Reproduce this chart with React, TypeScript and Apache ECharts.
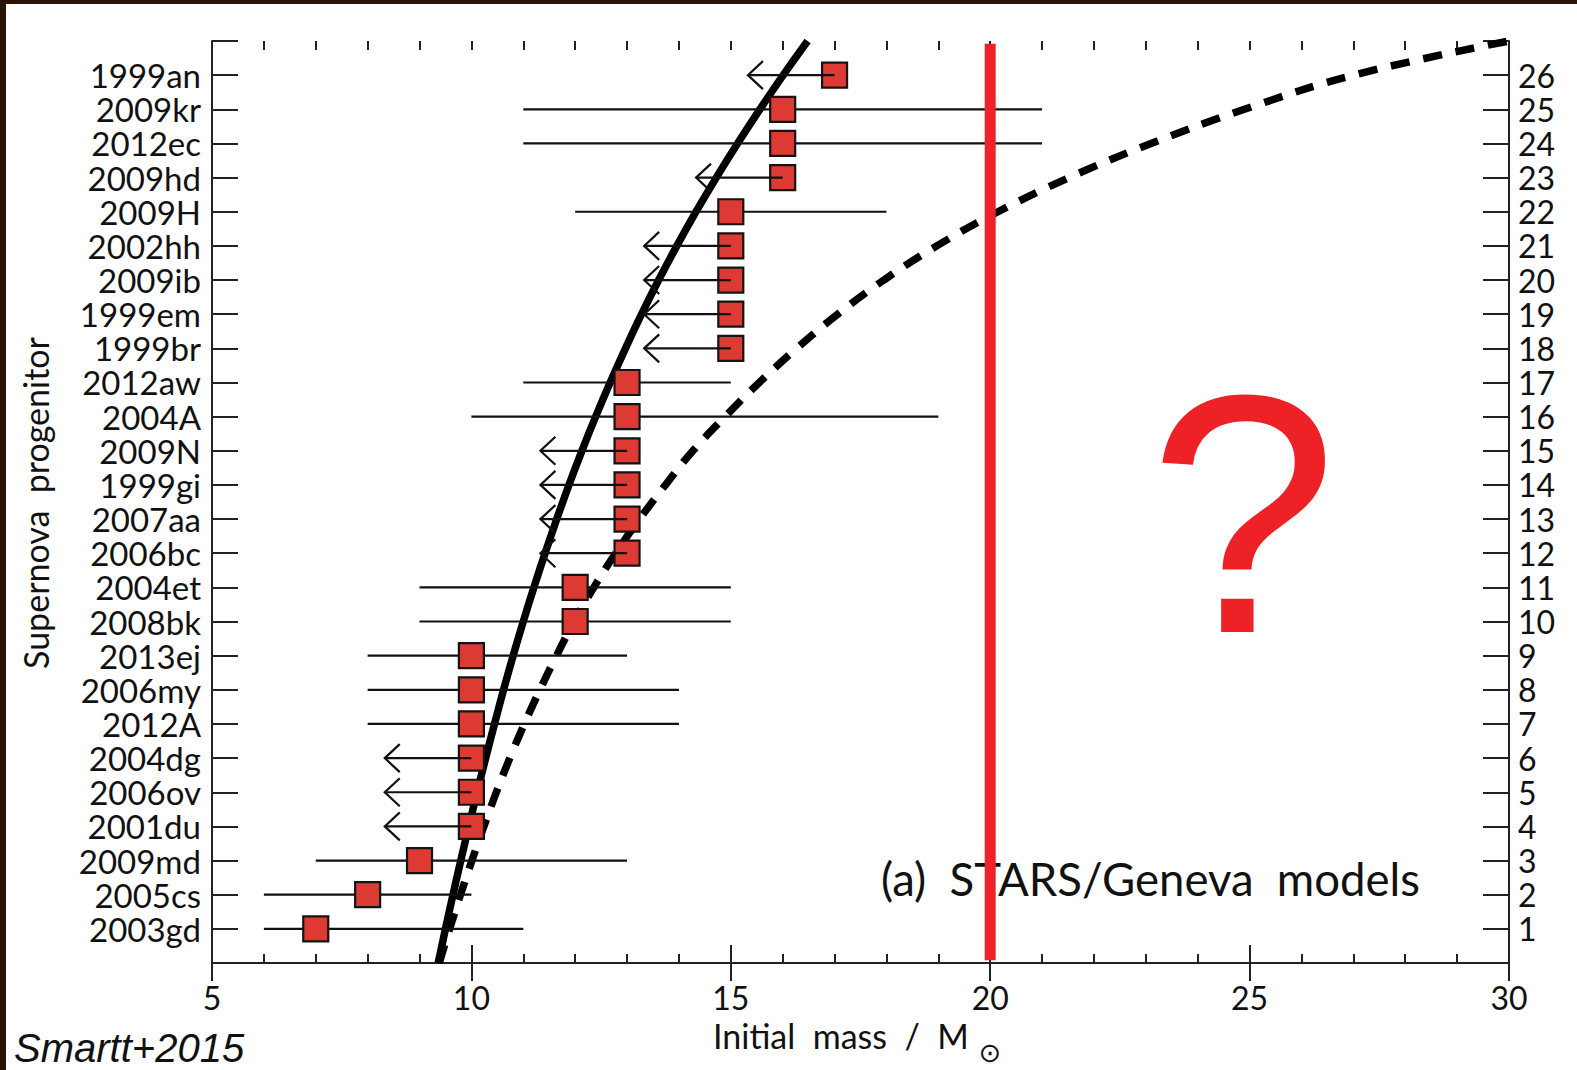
import React, { useEffect, useRef } from "react";
import * as echarts from "echarts";

// Supernova names, ordered by rank (1 = bottom)
const names = [
  "2003gd", "2005cs", "2009md", "2001du", "2006ov", "2004dg", "2012A", "2006my", "2013ej",
  "2008bk", "2004et", "2006bc", "2007aa", "1999gi", "2009N", "2004A", "2012aw", "1999br",
  "1999em", "2009ib", "2002hh", "2009H", "2009hd", "2012ec", "2009kr", "1999an",
];
const rankLabels = [
  "1", "2", "3", "4", "5", "6", "7", "8", "9", "10", "11", "12", "13", "14", "15", "16", "17",
  "18", "19", "20", "21", "22", "23", "24", "25", "26",
];
// Initial mass estimates (Msun)
const masses = [7, 8, 9, 10, 10, 10, 10, 10, 10, 12, 12, 13, 13, 13, 13, 13, 13, 15, 15, 15, 15, 15, 16, 16, 16, 17];
// Lower end of error bar, or tip of the upper-limit arrow
const lowers = [6, 6, 7, 8.33, 8.33, 8.33, 8, 8, 8, 9, 9, 11.33, 11.33, 11.33, 11.33, 10, 11, 13.33, 13.33, 13.33, 13.33, 12, 14.33, 11, 11, 15.33];
// Upper end of error bar (for upper limits, equals the mass)
const uppers = [11, 10, 13, 10, 10, 10, 14, 14, 13, 15, 15, 13, 13, 13, 13, 19, 15, 15, 15, 15, 15, 18, 16, 21, 21, 17];
// 1 = upper limit (arrow), 0 = two-sided error bar
const isLimit = [0, 0, 0, 1, 1, 1, 0, 0, 0, 0, 0, 1, 1, 1, 1, 0, 0, 1, 1, 1, 1, 0, 1, 0, 0, 1];

// Model curves: rank position vs expected mass
const curveRank = [0, 1, 2, 3, 4, 5, 6, 7, 8, 9, 10, 11, 12, 13, 14, 15, 16, 17, 18, 19, 20, 21, 22, 23, 24, 25, 26, 27];
const solidMass = [9.36, 9.5, 9.645, 9.795, 9.95, 10.11, 10.275, 10.445, 10.62, 10.805, 11.0, 11.205, 11.42, 11.645, 11.88, 12.13, 12.395, 12.675, 12.97, 13.28, 13.61, 13.96, 14.33, 14.72, 15.13, 15.56, 16.01, 16.48];
const dashedMass = [9.38, 9.58, 9.79, 10.01, 10.24, 10.48, 10.74, 11.02, 11.32, 11.64, 11.98, 12.36, 12.78, 13.24, 13.74, 14.27, 14.89, 15.55, 16.27, 17.06, 17.95, 18.97, 20.15, 21.52, 23.1, 24.9, 27.0, 30.0];

const xTicks = [5, 10, 15, 20, 25, 30];
const redLineMass = 20;

const FONT = "Lato";

export default function App() {
  const ref = useRef<HTMLDivElement>(null);
  useEffect(() => {
    if (!ref.current) return;
    const chart = echarts.init(ref.current, null, { renderer: "svg" });

    const barData = names.map((n, i) => [masses[i], i + 1, lowers[i], uppers[i]]).filter((_, i) => !isLimit[i]);
    const limData = names.map((n, i) => [masses[i], i + 1, lowers[i], uppers[i]]).filter((_, i) => isLimit[i]);
    const pts = masses.map((m, i) => [m, i + 1]);

    const axisLineStyle = { color: "#222", width: 2 };
    const tickStyle = { color: "#222", width: 2 };

    const xMin = xTicks[0];
    const xMax = xTicks[xTicks.length - 1];

    const majorX = (position: string, labels: boolean) => ({
      type: "value",
      position,
      min: xMin,
      max: xMax,
      interval: 5,
      splitLine: { show: false },
      axisLine: { show: true, lineStyle: axisLineStyle },
      axisTick: { show: true, inside: true, length: 18, lineStyle: tickStyle },
      minorTick: { show: false },
      axisLabel: labels
        ? { show: true, fontFamily: FONT, fontSize: 32, color: "#111", margin: 18 }
        : { show: false },
    });
    const minorX = (position: string) => ({
      type: "value",
      position,
      min: xMin,
      max: xMax,
      interval: 1,
      splitLine: { show: false },
      axisLine: { show: false },
      axisTick: { show: true, inside: true, length: 9, lineStyle: tickStyle },
      axisLabel: { show: false },
    });

    const option: any = {
      animation: false,
      backgroundColor: "#ffffff",
      grid: { left: 212, right: 68, top: 41, bottom: 107, containLabel: false, outerBoundsMode: "none" },
      xAxis: [majorX("bottom", true), majorX("top", false), minorX("bottom"), minorX("top")],
      yAxis: [
        {
          type: "value",
          position: "left",
          min: 0,
          max: 27,
          interval: 1,
          splitLine: { show: false },
          axisLine: { show: true, lineStyle: axisLineStyle },
          axisTick: { show: true, inside: true, length: 26, lineStyle: tickStyle },
          axisLabel: {
            fontFamily: FONT,
            fontSize: 33,
            lineHeight: 28,
            color: "#111",
            margin: 11,
            formatter: (v: number) => (v >= 1 && v <= names.length ? names[v - 1] : ""),
          },
        },
        {
          type: "value",
          position: "right",
          min: 0,
          max: 27,
          interval: 1,
          splitLine: { show: false },
          axisLine: { show: true, lineStyle: axisLineStyle },
          axisTick: { show: true, inside: true, length: 26, lineStyle: tickStyle },
          axisLabel: {
            fontFamily: FONT,
            fontSize: 32,
            lineHeight: 28,
            color: "#111",
            margin: 9,
            formatter: (v: number) => (v >= 1 && v <= rankLabels.length ? rankLabels[v - 1] : ""),
          },
        },
      ],
      series: [
        {
          type: "line",
          name: "dashed",
          data: curveRank.map((r, i) => [dashedMass[i], r]),
          smooth: 0.4,
          symbol: "none",
          clip: true,
          z: 2,
          lineStyle: { color: "#000", width: 7.5, type: [19, 14], cap: "butt" },
        },
        {
          type: "line",
          name: "solid",
          data: curveRank.map((r, i) => [solidMass[i], r]),
          smooth: 0.4,
          symbol: "none",
          clip: true,
          z: 2,
          lineStyle: { color: "#000", width: 7.5 },
        },
        {
          type: "custom",
          name: "bars",
          z: 3,
          data: barData,
          encode: { x: [0, 2, 3], y: 1 },
          renderItem: (params: any, api: any) => {
            const y = api.value(1);
            const a = api.coord([api.value(2), y]);
            const b = api.coord([api.value(3), y]);
            return {
              type: "line",
              shape: { x1: a[0], y1: a[1], x2: b[0], y2: b[1] },
              style: { stroke: "#111", lineWidth: 2.2 },
            };
          },
        },
        {
          type: "scatter",
          name: "points",
          data: pts,
          symbol: "rect",
          symbolSize: 25,
          z: 4,
          itemStyle: { color: "#dc3a32", borderColor: "#141414", borderWidth: 2.2, opacity: 1 },
        },
        {
          type: "custom",
          name: "limits",
          z: 5,
          data: limData,
          encode: { x: [0, 2, 3], y: 1 },
          renderItem: (params: any, api: any) => {
            const y = api.value(1);
            const tip = api.coord([api.value(2), y]);
            const end = api.coord([api.value(3), y]);
            return {
              type: "group",
              children: [
                {
                  type: "line",
                  shape: { x1: tip[0], y1: tip[1], x2: end[0], y2: end[1] },
                  style: { stroke: "#111", lineWidth: 2.2 },
                },
                {
                  type: "polyline",
                  shape: { points: [[tip[0] + 15, tip[1] - 14], [tip[0], tip[1]], [tip[0] + 15, tip[1] + 14]] },
                  style: { stroke: "#111", lineWidth: 2.2, fill: "none" },
                },
              ],
            };
          },
        },
        {
          type: "line",
          name: "limit20",
          data: [[redLineMass, 0.08], [redLineMass, 26.92]],
          symbol: "none",
          z: 6,
          lineStyle: { color: "#ee2229", width: 11, cap: "butt" },
        },
      ],
      graphic: [
        { type: "rect", left: 0, top: 0, z: 100, shape: { width: 1577, height: 4 }, style: { fill: "#2a1307" } },
        { type: "rect", left: 0, top: 0, z: 100, shape: { width: 6, height: 1070 }, style: { fill: "#2a1307" } },
        {
          type: "text",
          x: 35,
          y: 503,
          rotation: Math.PI / 2,
          z: 50,
          style: {
            text: "Supernova  progenitor",
            fontFamily: FONT,
            fontSize: 34,
            fill: "#111",
            align: "center",
            verticalAlign: "middle",
          },
        },
        {
          type: "text",
          x: 713,
          y: 1035,
          z: 50,
          style: { text: "Initial  mass  /  M", fontFamily: FONT, fontSize: 34, fill: "#111", align: "left", verticalAlign: "middle" },
        },
        {
          type: "text",
          x: 990,
          y: 1052,
          z: 50,
          style: { text: "\u2299", fontFamily: "DejaVu Sans", fontSize: 27, fill: "#111", align: "center", verticalAlign: "middle" },
        },
        {
          type: "text",
          x: 881,
          y: 878,
          z: 5,
          style: { text: "(a)  STARS/Geneva  models", fontFamily: FONT, fontSize: 45.5, fill: "#111", align: "left", verticalAlign: "middle" },
        },
        {
          type: "text",
          x: 1243,
          y: 514,
          z: 50,
          style: { text: "?", fontFamily: "Liberation Sans", fontSize: 340, fill: "#ee2127", align: "center", verticalAlign: "middle" },
        },
        {
          type: "text",
          x: 14,
          y: 1048,
          z: 50,
          style: {
            text: "Smartt+2015",
            fontFamily: "Liberation Sans",
            fontStyle: "italic",
            fontSize: 40,
            fill: "#111",
            align: "left",
            verticalAlign: "middle",
          },
        },
      ],
    };

    chart.setOption(option);
    return () => chart.dispose();
  }, []);

  return (
    <div
      ref={ref}
      style={{ position: "fixed", left: 0, top: 0, width: 1577, height: 1070, background: "#fff" }}
    />
  );
}
